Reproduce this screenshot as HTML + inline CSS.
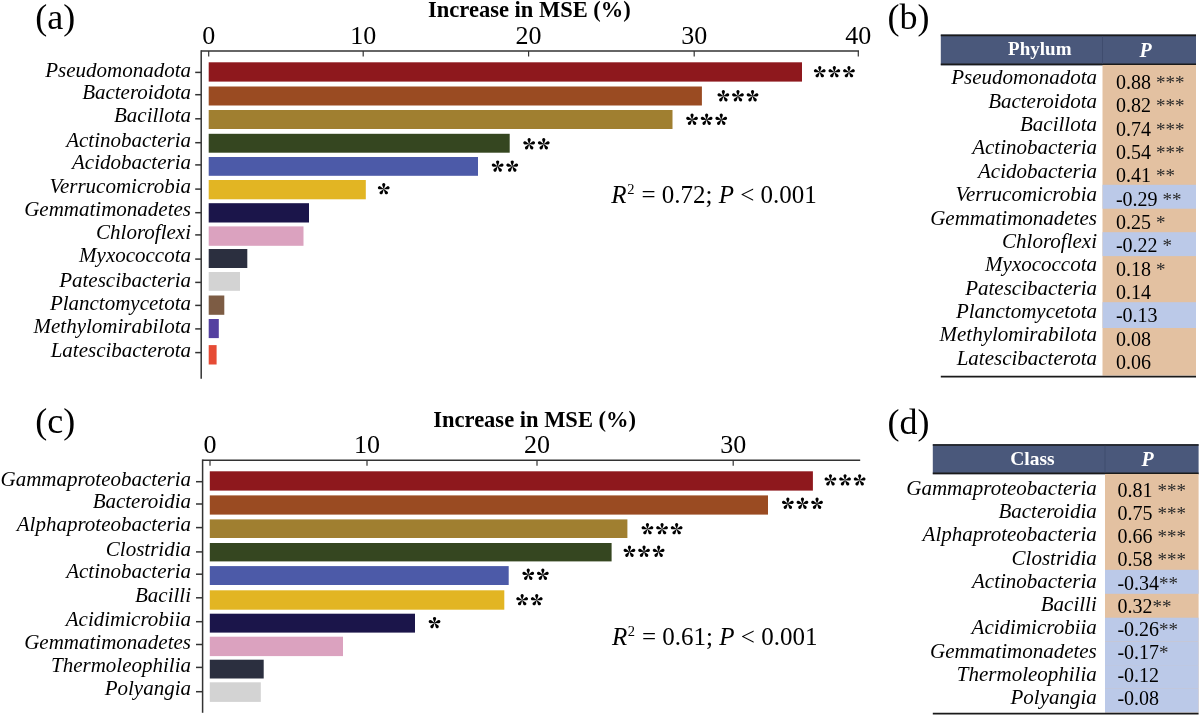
<!DOCTYPE html>
<html><head><meta charset="utf-8"><style>
html,body{margin:0;padding:0;background:#fff;}
body{width:1200px;height:716px;overflow:hidden;}
svg{display:block;font-family:"Liberation Serif", serif;will-change:transform;}
</style></head><body>
<svg width="1200" height="716" viewBox="0 0 1200 716">
<rect width="1200" height="716" fill="#fff"/>
<text x="35.2" y="29" text-anchor="start" fill="#000" style="font-size:36px;">(a)</text>
<text x="428.1" y="17.2" text-anchor="start" fill="#000" style="font-size:22.5px;font-weight:bold;">Increase in MSE (%)</text>
<line x1="201.2" y1="51" x2="859" y2="51" stroke="#333" stroke-width="1.5"/>
<line x1="201.2" y1="50.25" x2="201.2" y2="378.7" stroke="#333" stroke-width="1.5"/>
<line x1="208.7" y1="51" x2="208.7" y2="56.5" stroke="#333" stroke-width="1.2"/>
<text x="208.7" y="44.2" text-anchor="middle" fill="#000" style="font-size:26px;">0</text>
<line x1="363.2" y1="51" x2="363.2" y2="56.5" stroke="#333" stroke-width="1.2"/>
<text x="363.2" y="44.2" text-anchor="middle" fill="#000" style="font-size:26px;">10</text>
<line x1="528.6" y1="51" x2="528.6" y2="56.5" stroke="#333" stroke-width="1.2"/>
<text x="528.6" y="44.2" text-anchor="middle" fill="#000" style="font-size:26px;">20</text>
<line x1="694.2" y1="51" x2="694.2" y2="56.5" stroke="#333" stroke-width="1.2"/>
<text x="694.2" y="44.2" text-anchor="middle" fill="#000" style="font-size:26px;">30</text>
<line x1="858.3" y1="51" x2="858.3" y2="56.5" stroke="#333" stroke-width="1.2"/>
<text x="858.3" y="44.2" text-anchor="middle" fill="#000" style="font-size:26px;">40</text>
<rect x="208.70" y="62.30" width="593.30" height="19.30" fill="#8E181D"/>
<line x1="195.2" y1="72.4" x2="201.2" y2="72.4" stroke="#333" stroke-width="1.5"/>
<text x="191" y="77.39999999999999" text-anchor="end" fill="#000" style="font-size:21px;font-style:italic;">Pseudomonadota</text>
<rect x="208.70" y="86.50" width="493.20" height="19.00" fill="#9A4B22"/>
<line x1="195.2" y1="94.7" x2="201.2" y2="94.7" stroke="#333" stroke-width="1.5"/>
<text x="191" y="98.89999999999999" text-anchor="end" fill="#000" style="font-size:21px;font-style:italic;">Bacteroidota</text>
<rect x="208.70" y="110.00" width="463.80" height="19.00" fill="#A07F30"/>
<line x1="195.2" y1="118.8" x2="201.2" y2="118.8" stroke="#333" stroke-width="1.5"/>
<text x="191" y="122.1" text-anchor="end" fill="#000" style="font-size:21px;font-style:italic;">Bacillota</text>
<rect x="208.70" y="133.80" width="301.00" height="18.90" fill="#354620"/>
<line x1="195.2" y1="142.7" x2="201.2" y2="142.7" stroke="#333" stroke-width="1.5"/>
<text x="191" y="146.9" text-anchor="end" fill="#000" style="font-size:21px;font-style:italic;">Actinobacteria</text>
<rect x="208.70" y="157.00" width="269.30" height="18.80" fill="#4C5AA8"/>
<line x1="195.2" y1="164.9" x2="201.2" y2="164.9" stroke="#333" stroke-width="1.5"/>
<text x="191" y="169.3" text-anchor="end" fill="#000" style="font-size:21px;font-style:italic;">Acidobacteria</text>
<rect x="208.70" y="180.00" width="157.10" height="19.30" fill="#E2B523"/>
<line x1="195.2" y1="189.1" x2="201.2" y2="189.1" stroke="#333" stroke-width="1.5"/>
<text x="191" y="193.10000000000002" text-anchor="end" fill="#000" style="font-size:21px;font-style:italic;">Verrucomicrobia</text>
<rect x="208.70" y="203.20" width="100.30" height="19.30" fill="#1B154A"/>
<line x1="195.2" y1="212.7" x2="201.2" y2="212.7" stroke="#333" stroke-width="1.5"/>
<text x="191" y="216.4" text-anchor="end" fill="#000" style="font-size:21px;font-style:italic;">Gemmatimonadetes</text>
<rect x="208.70" y="226.40" width="94.80" height="19.40" fill="#DBA2BF"/>
<line x1="195.2" y1="234.9" x2="201.2" y2="234.9" stroke="#333" stroke-width="1.5"/>
<text x="191" y="238.9" text-anchor="end" fill="#000" style="font-size:21px;font-style:italic;">Chloroflexi</text>
<rect x="208.70" y="249.00" width="38.60" height="19.00" fill="#2B2F3F"/>
<line x1="195.2" y1="259.1" x2="201.2" y2="259.1" stroke="#333" stroke-width="1.5"/>
<text x="191" y="262.3" text-anchor="end" fill="#000" style="font-size:21px;font-style:italic;">Myxococcota</text>
<rect x="208.70" y="272.00" width="31.30" height="18.80" fill="#D3D3D3"/>
<line x1="195.2" y1="282.4" x2="201.2" y2="282.4" stroke="#333" stroke-width="1.5"/>
<text x="191" y="286.6" text-anchor="end" fill="#000" style="font-size:21px;font-style:italic;">Patescibacteria</text>
<rect x="208.70" y="295.50" width="15.60" height="19.30" fill="#7D5C44"/>
<line x1="195.2" y1="305.4" x2="201.2" y2="305.4" stroke="#333" stroke-width="1.5"/>
<text x="191" y="309.6" text-anchor="end" fill="#000" style="font-size:21px;font-style:italic;">Planctomycetota</text>
<rect x="208.70" y="319.00" width="10.10" height="19.10" fill="#5440A0"/>
<line x1="195.2" y1="328.9" x2="201.2" y2="328.9" stroke="#333" stroke-width="1.5"/>
<text x="191" y="333.3" text-anchor="end" fill="#000" style="font-size:21px;font-style:italic;">Methylomirabilota</text>
<rect x="208.70" y="345.10" width="7.90" height="19.40" fill="#E64B35"/>
<line x1="195.2" y1="352.6" x2="201.2" y2="352.6" stroke="#333" stroke-width="1.5"/>
<text x="191" y="356.6" text-anchor="end" fill="#000" style="font-size:21px;font-style:italic;">Latescibacterota</text>
<g transform="translate(819.75,72.10)"><path d="M0,0.2 L-1.495,-3.931 A1.6,1.6 0 1 1 1.495,-3.931 L0,0.2 Z" transform="rotate(0)"/><path d="M0,0.2 L-1.495,-3.931 A1.6,1.6 0 1 1 1.495,-3.931 L0,0.2 Z" transform="rotate(72)"/><path d="M0,0.2 L-1.495,-3.931 A1.6,1.6 0 1 1 1.495,-3.931 L0,0.2 Z" transform="rotate(144)"/><path d="M0,0.2 L-1.495,-3.931 A1.6,1.6 0 1 1 1.495,-3.931 L0,0.2 Z" transform="rotate(216)"/><path d="M0,0.2 L-1.495,-3.931 A1.6,1.6 0 1 1 1.495,-3.931 L0,0.2 Z" transform="rotate(288)"/></g>
<g transform="translate(834.35,72.10)"><path d="M0,0.2 L-1.495,-3.931 A1.6,1.6 0 1 1 1.495,-3.931 L0,0.2 Z" transform="rotate(0)"/><path d="M0,0.2 L-1.495,-3.931 A1.6,1.6 0 1 1 1.495,-3.931 L0,0.2 Z" transform="rotate(72)"/><path d="M0,0.2 L-1.495,-3.931 A1.6,1.6 0 1 1 1.495,-3.931 L0,0.2 Z" transform="rotate(144)"/><path d="M0,0.2 L-1.495,-3.931 A1.6,1.6 0 1 1 1.495,-3.931 L0,0.2 Z" transform="rotate(216)"/><path d="M0,0.2 L-1.495,-3.931 A1.6,1.6 0 1 1 1.495,-3.931 L0,0.2 Z" transform="rotate(288)"/></g>
<g transform="translate(848.95,72.10)"><path d="M0,0.2 L-1.495,-3.931 A1.6,1.6 0 1 1 1.495,-3.931 L0,0.2 Z" transform="rotate(0)"/><path d="M0,0.2 L-1.495,-3.931 A1.6,1.6 0 1 1 1.495,-3.931 L0,0.2 Z" transform="rotate(72)"/><path d="M0,0.2 L-1.495,-3.931 A1.6,1.6 0 1 1 1.495,-3.931 L0,0.2 Z" transform="rotate(144)"/><path d="M0,0.2 L-1.495,-3.931 A1.6,1.6 0 1 1 1.495,-3.931 L0,0.2 Z" transform="rotate(216)"/><path d="M0,0.2 L-1.495,-3.931 A1.6,1.6 0 1 1 1.495,-3.931 L0,0.2 Z" transform="rotate(288)"/></g>
<g transform="translate(723.35,96.20)"><path d="M0,0.2 L-1.495,-3.931 A1.6,1.6 0 1 1 1.495,-3.931 L0,0.2 Z" transform="rotate(0)"/><path d="M0,0.2 L-1.495,-3.931 A1.6,1.6 0 1 1 1.495,-3.931 L0,0.2 Z" transform="rotate(72)"/><path d="M0,0.2 L-1.495,-3.931 A1.6,1.6 0 1 1 1.495,-3.931 L0,0.2 Z" transform="rotate(144)"/><path d="M0,0.2 L-1.495,-3.931 A1.6,1.6 0 1 1 1.495,-3.931 L0,0.2 Z" transform="rotate(216)"/><path d="M0,0.2 L-1.495,-3.931 A1.6,1.6 0 1 1 1.495,-3.931 L0,0.2 Z" transform="rotate(288)"/></g>
<g transform="translate(737.95,96.20)"><path d="M0,0.2 L-1.495,-3.931 A1.6,1.6 0 1 1 1.495,-3.931 L0,0.2 Z" transform="rotate(0)"/><path d="M0,0.2 L-1.495,-3.931 A1.6,1.6 0 1 1 1.495,-3.931 L0,0.2 Z" transform="rotate(72)"/><path d="M0,0.2 L-1.495,-3.931 A1.6,1.6 0 1 1 1.495,-3.931 L0,0.2 Z" transform="rotate(144)"/><path d="M0,0.2 L-1.495,-3.931 A1.6,1.6 0 1 1 1.495,-3.931 L0,0.2 Z" transform="rotate(216)"/><path d="M0,0.2 L-1.495,-3.931 A1.6,1.6 0 1 1 1.495,-3.931 L0,0.2 Z" transform="rotate(288)"/></g>
<g transform="translate(752.55,96.20)"><path d="M0,0.2 L-1.495,-3.931 A1.6,1.6 0 1 1 1.495,-3.931 L0,0.2 Z" transform="rotate(0)"/><path d="M0,0.2 L-1.495,-3.931 A1.6,1.6 0 1 1 1.495,-3.931 L0,0.2 Z" transform="rotate(72)"/><path d="M0,0.2 L-1.495,-3.931 A1.6,1.6 0 1 1 1.495,-3.931 L0,0.2 Z" transform="rotate(144)"/><path d="M0,0.2 L-1.495,-3.931 A1.6,1.6 0 1 1 1.495,-3.931 L0,0.2 Z" transform="rotate(216)"/><path d="M0,0.2 L-1.495,-3.931 A1.6,1.6 0 1 1 1.495,-3.931 L0,0.2 Z" transform="rotate(288)"/></g>
<g transform="translate(692.05,119.70)"><path d="M0,0.2 L-1.495,-3.931 A1.6,1.6 0 1 1 1.495,-3.931 L0,0.2 Z" transform="rotate(0)"/><path d="M0,0.2 L-1.495,-3.931 A1.6,1.6 0 1 1 1.495,-3.931 L0,0.2 Z" transform="rotate(72)"/><path d="M0,0.2 L-1.495,-3.931 A1.6,1.6 0 1 1 1.495,-3.931 L0,0.2 Z" transform="rotate(144)"/><path d="M0,0.2 L-1.495,-3.931 A1.6,1.6 0 1 1 1.495,-3.931 L0,0.2 Z" transform="rotate(216)"/><path d="M0,0.2 L-1.495,-3.931 A1.6,1.6 0 1 1 1.495,-3.931 L0,0.2 Z" transform="rotate(288)"/></g>
<g transform="translate(706.65,119.70)"><path d="M0,0.2 L-1.495,-3.931 A1.6,1.6 0 1 1 1.495,-3.931 L0,0.2 Z" transform="rotate(0)"/><path d="M0,0.2 L-1.495,-3.931 A1.6,1.6 0 1 1 1.495,-3.931 L0,0.2 Z" transform="rotate(72)"/><path d="M0,0.2 L-1.495,-3.931 A1.6,1.6 0 1 1 1.495,-3.931 L0,0.2 Z" transform="rotate(144)"/><path d="M0,0.2 L-1.495,-3.931 A1.6,1.6 0 1 1 1.495,-3.931 L0,0.2 Z" transform="rotate(216)"/><path d="M0,0.2 L-1.495,-3.931 A1.6,1.6 0 1 1 1.495,-3.931 L0,0.2 Z" transform="rotate(288)"/></g>
<g transform="translate(721.25,119.70)"><path d="M0,0.2 L-1.495,-3.931 A1.6,1.6 0 1 1 1.495,-3.931 L0,0.2 Z" transform="rotate(0)"/><path d="M0,0.2 L-1.495,-3.931 A1.6,1.6 0 1 1 1.495,-3.931 L0,0.2 Z" transform="rotate(72)"/><path d="M0,0.2 L-1.495,-3.931 A1.6,1.6 0 1 1 1.495,-3.931 L0,0.2 Z" transform="rotate(144)"/><path d="M0,0.2 L-1.495,-3.931 A1.6,1.6 0 1 1 1.495,-3.931 L0,0.2 Z" transform="rotate(216)"/><path d="M0,0.2 L-1.495,-3.931 A1.6,1.6 0 1 1 1.495,-3.931 L0,0.2 Z" transform="rotate(288)"/></g>
<g transform="translate(529.15,144.20)"><path d="M0,0.2 L-1.495,-3.931 A1.6,1.6 0 1 1 1.495,-3.931 L0,0.2 Z" transform="rotate(0)"/><path d="M0,0.2 L-1.495,-3.931 A1.6,1.6 0 1 1 1.495,-3.931 L0,0.2 Z" transform="rotate(72)"/><path d="M0,0.2 L-1.495,-3.931 A1.6,1.6 0 1 1 1.495,-3.931 L0,0.2 Z" transform="rotate(144)"/><path d="M0,0.2 L-1.495,-3.931 A1.6,1.6 0 1 1 1.495,-3.931 L0,0.2 Z" transform="rotate(216)"/><path d="M0,0.2 L-1.495,-3.931 A1.6,1.6 0 1 1 1.495,-3.931 L0,0.2 Z" transform="rotate(288)"/></g>
<g transform="translate(543.75,144.20)"><path d="M0,0.2 L-1.495,-3.931 A1.6,1.6 0 1 1 1.495,-3.931 L0,0.2 Z" transform="rotate(0)"/><path d="M0,0.2 L-1.495,-3.931 A1.6,1.6 0 1 1 1.495,-3.931 L0,0.2 Z" transform="rotate(72)"/><path d="M0,0.2 L-1.495,-3.931 A1.6,1.6 0 1 1 1.495,-3.931 L0,0.2 Z" transform="rotate(144)"/><path d="M0,0.2 L-1.495,-3.931 A1.6,1.6 0 1 1 1.495,-3.931 L0,0.2 Z" transform="rotate(216)"/><path d="M0,0.2 L-1.495,-3.931 A1.6,1.6 0 1 1 1.495,-3.931 L0,0.2 Z" transform="rotate(288)"/></g>
<g transform="translate(497.65,166.50)"><path d="M0,0.2 L-1.495,-3.931 A1.6,1.6 0 1 1 1.495,-3.931 L0,0.2 Z" transform="rotate(0)"/><path d="M0,0.2 L-1.495,-3.931 A1.6,1.6 0 1 1 1.495,-3.931 L0,0.2 Z" transform="rotate(72)"/><path d="M0,0.2 L-1.495,-3.931 A1.6,1.6 0 1 1 1.495,-3.931 L0,0.2 Z" transform="rotate(144)"/><path d="M0,0.2 L-1.495,-3.931 A1.6,1.6 0 1 1 1.495,-3.931 L0,0.2 Z" transform="rotate(216)"/><path d="M0,0.2 L-1.495,-3.931 A1.6,1.6 0 1 1 1.495,-3.931 L0,0.2 Z" transform="rotate(288)"/></g>
<g transform="translate(512.25,166.50)"><path d="M0,0.2 L-1.495,-3.931 A1.6,1.6 0 1 1 1.495,-3.931 L0,0.2 Z" transform="rotate(0)"/><path d="M0,0.2 L-1.495,-3.931 A1.6,1.6 0 1 1 1.495,-3.931 L0,0.2 Z" transform="rotate(72)"/><path d="M0,0.2 L-1.495,-3.931 A1.6,1.6 0 1 1 1.495,-3.931 L0,0.2 Z" transform="rotate(144)"/><path d="M0,0.2 L-1.495,-3.931 A1.6,1.6 0 1 1 1.495,-3.931 L0,0.2 Z" transform="rotate(216)"/><path d="M0,0.2 L-1.495,-3.931 A1.6,1.6 0 1 1 1.495,-3.931 L0,0.2 Z" transform="rotate(288)"/></g>
<g transform="translate(383.75,189.10)"><path d="M0,0.2 L-1.495,-3.931 A1.6,1.6 0 1 1 1.495,-3.931 L0,0.2 Z" transform="rotate(0)"/><path d="M0,0.2 L-1.495,-3.931 A1.6,1.6 0 1 1 1.495,-3.931 L0,0.2 Z" transform="rotate(72)"/><path d="M0,0.2 L-1.495,-3.931 A1.6,1.6 0 1 1 1.495,-3.931 L0,0.2 Z" transform="rotate(144)"/><path d="M0,0.2 L-1.495,-3.931 A1.6,1.6 0 1 1 1.495,-3.931 L0,0.2 Z" transform="rotate(216)"/><path d="M0,0.2 L-1.495,-3.931 A1.6,1.6 0 1 1 1.495,-3.931 L0,0.2 Z" transform="rotate(288)"/></g>
<text x="611.3" y="202.6" text-anchor="start" fill="#000" style="font-size:25px;"><tspan font-style="italic">R</tspan><tspan font-size="14.5" dx="0.6" dy="-8.5">2</tspan><tspan dx="0.7" dy="8.5"> = 0.72; </tspan><tspan font-style="italic">P</tspan> &lt; 0.001</text>
<text x="35.2" y="433.3" text-anchor="start" fill="#000" style="font-size:36px;">(c)</text>
<text x="433.3" y="426.8" text-anchor="start" fill="#000" style="font-size:22.5px;font-weight:bold;">Increase in MSE (%)</text>
<line x1="202.6" y1="460.2" x2="860.2" y2="460.2" stroke="#333" stroke-width="1.5"/>
<line x1="202.6" y1="459.45" x2="202.6" y2="712.8" stroke="#333" stroke-width="1.5"/>
<line x1="210" y1="460.2" x2="210" y2="465.7" stroke="#333" stroke-width="1.2"/>
<text x="210" y="453.3" text-anchor="middle" fill="#000" style="font-size:26px;">0</text>
<line x1="367" y1="460.2" x2="367" y2="465.7" stroke="#333" stroke-width="1.2"/>
<text x="367" y="453.3" text-anchor="middle" fill="#000" style="font-size:26px;">10</text>
<line x1="537" y1="460.2" x2="537" y2="465.7" stroke="#333" stroke-width="1.2"/>
<text x="537" y="453.3" text-anchor="middle" fill="#000" style="font-size:26px;">20</text>
<line x1="733.2" y1="460.2" x2="733.2" y2="465.7" stroke="#333" stroke-width="1.2"/>
<text x="733.2" y="453.3" text-anchor="middle" fill="#000" style="font-size:26px;">30</text>
<rect x="209.80" y="471.30" width="603.10" height="19.30" fill="#8E181D"/>
<line x1="196" y1="481.7" x2="202.6" y2="481.7" stroke="#333" stroke-width="1.5"/>
<text x="191" y="485.90000000000003" text-anchor="end" fill="#000" style="font-size:21px;font-style:italic;">Gammaproteobacteria</text>
<rect x="209.80" y="495.40" width="558.20" height="19.20" fill="#9A4B22"/>
<line x1="196" y1="504" x2="202.6" y2="504" stroke="#333" stroke-width="1.5"/>
<text x="191" y="508.1" text-anchor="end" fill="#000" style="font-size:21px;font-style:italic;">Bacteroidia</text>
<rect x="209.80" y="519.40" width="417.60" height="18.60" fill="#A07F30"/>
<line x1="196" y1="527.6" x2="202.6" y2="527.6" stroke="#333" stroke-width="1.5"/>
<text x="191" y="531.3" text-anchor="end" fill="#000" style="font-size:21px;font-style:italic;">Alphaproteobacteria</text>
<rect x="209.80" y="543.00" width="401.80" height="18.40" fill="#354620"/>
<line x1="196" y1="551.9" x2="202.6" y2="551.9" stroke="#333" stroke-width="1.5"/>
<text x="191" y="555.9" text-anchor="end" fill="#000" style="font-size:21px;font-style:italic;">Clostridia</text>
<rect x="209.80" y="566.10" width="298.90" height="18.90" fill="#4C5AA8"/>
<line x1="196" y1="574.2" x2="202.6" y2="574.2" stroke="#333" stroke-width="1.5"/>
<text x="191" y="578.0999999999999" text-anchor="end" fill="#000" style="font-size:21px;font-style:italic;">Actinobacteria</text>
<rect x="209.80" y="590.30" width="294.50" height="19.40" fill="#E2B523"/>
<line x1="196" y1="597.8" x2="202.6" y2="597.8" stroke="#333" stroke-width="1.5"/>
<text x="191" y="602.3" text-anchor="end" fill="#000" style="font-size:21px;font-style:italic;">Bacilli</text>
<rect x="209.80" y="613.70" width="205.20" height="18.90" fill="#1B154A"/>
<line x1="196" y1="621.7" x2="202.6" y2="621.7" stroke="#333" stroke-width="1.5"/>
<text x="191" y="625.8" text-anchor="end" fill="#000" style="font-size:21px;font-style:italic;">Acidimicrobiia</text>
<rect x="209.80" y="636.70" width="133.20" height="19.40" fill="#DBA2BF"/>
<line x1="196" y1="644.5" x2="202.6" y2="644.5" stroke="#333" stroke-width="1.5"/>
<text x="191" y="648.6999999999999" text-anchor="end" fill="#000" style="font-size:21px;font-style:italic;">Gemmatimonadetes</text>
<rect x="209.80" y="659.70" width="53.90" height="18.80" fill="#2B2F3F"/>
<line x1="196" y1="667.4" x2="202.6" y2="667.4" stroke="#333" stroke-width="1.5"/>
<text x="191" y="671.5999999999999" text-anchor="end" fill="#000" style="font-size:21px;font-style:italic;">Thermoleophilia</text>
<rect x="209.80" y="682.30" width="51.00" height="19.60" fill="#D3D3D3"/>
<line x1="196" y1="691.7" x2="202.6" y2="691.7" stroke="#333" stroke-width="1.5"/>
<text x="191" y="695.3" text-anchor="end" fill="#000" style="font-size:21px;font-style:italic;">Polyangia</text>
<g transform="translate(830.45,480.30)"><path d="M0,0.2 L-1.495,-3.931 A1.6,1.6 0 1 1 1.495,-3.931 L0,0.2 Z" transform="rotate(0)"/><path d="M0,0.2 L-1.495,-3.931 A1.6,1.6 0 1 1 1.495,-3.931 L0,0.2 Z" transform="rotate(72)"/><path d="M0,0.2 L-1.495,-3.931 A1.6,1.6 0 1 1 1.495,-3.931 L0,0.2 Z" transform="rotate(144)"/><path d="M0,0.2 L-1.495,-3.931 A1.6,1.6 0 1 1 1.495,-3.931 L0,0.2 Z" transform="rotate(216)"/><path d="M0,0.2 L-1.495,-3.931 A1.6,1.6 0 1 1 1.495,-3.931 L0,0.2 Z" transform="rotate(288)"/></g>
<g transform="translate(845.05,480.30)"><path d="M0,0.2 L-1.495,-3.931 A1.6,1.6 0 1 1 1.495,-3.931 L0,0.2 Z" transform="rotate(0)"/><path d="M0,0.2 L-1.495,-3.931 A1.6,1.6 0 1 1 1.495,-3.931 L0,0.2 Z" transform="rotate(72)"/><path d="M0,0.2 L-1.495,-3.931 A1.6,1.6 0 1 1 1.495,-3.931 L0,0.2 Z" transform="rotate(144)"/><path d="M0,0.2 L-1.495,-3.931 A1.6,1.6 0 1 1 1.495,-3.931 L0,0.2 Z" transform="rotate(216)"/><path d="M0,0.2 L-1.495,-3.931 A1.6,1.6 0 1 1 1.495,-3.931 L0,0.2 Z" transform="rotate(288)"/></g>
<g transform="translate(859.65,480.30)"><path d="M0,0.2 L-1.495,-3.931 A1.6,1.6 0 1 1 1.495,-3.931 L0,0.2 Z" transform="rotate(0)"/><path d="M0,0.2 L-1.495,-3.931 A1.6,1.6 0 1 1 1.495,-3.931 L0,0.2 Z" transform="rotate(72)"/><path d="M0,0.2 L-1.495,-3.931 A1.6,1.6 0 1 1 1.495,-3.931 L0,0.2 Z" transform="rotate(144)"/><path d="M0,0.2 L-1.495,-3.931 A1.6,1.6 0 1 1 1.495,-3.931 L0,0.2 Z" transform="rotate(216)"/><path d="M0,0.2 L-1.495,-3.931 A1.6,1.6 0 1 1 1.495,-3.931 L0,0.2 Z" transform="rotate(288)"/></g>
<g transform="translate(787.85,503.70)"><path d="M0,0.2 L-1.495,-3.931 A1.6,1.6 0 1 1 1.495,-3.931 L0,0.2 Z" transform="rotate(0)"/><path d="M0,0.2 L-1.495,-3.931 A1.6,1.6 0 1 1 1.495,-3.931 L0,0.2 Z" transform="rotate(72)"/><path d="M0,0.2 L-1.495,-3.931 A1.6,1.6 0 1 1 1.495,-3.931 L0,0.2 Z" transform="rotate(144)"/><path d="M0,0.2 L-1.495,-3.931 A1.6,1.6 0 1 1 1.495,-3.931 L0,0.2 Z" transform="rotate(216)"/><path d="M0,0.2 L-1.495,-3.931 A1.6,1.6 0 1 1 1.495,-3.931 L0,0.2 Z" transform="rotate(288)"/></g>
<g transform="translate(802.45,503.70)"><path d="M0,0.2 L-1.495,-3.931 A1.6,1.6 0 1 1 1.495,-3.931 L0,0.2 Z" transform="rotate(0)"/><path d="M0,0.2 L-1.495,-3.931 A1.6,1.6 0 1 1 1.495,-3.931 L0,0.2 Z" transform="rotate(72)"/><path d="M0,0.2 L-1.495,-3.931 A1.6,1.6 0 1 1 1.495,-3.931 L0,0.2 Z" transform="rotate(144)"/><path d="M0,0.2 L-1.495,-3.931 A1.6,1.6 0 1 1 1.495,-3.931 L0,0.2 Z" transform="rotate(216)"/><path d="M0,0.2 L-1.495,-3.931 A1.6,1.6 0 1 1 1.495,-3.931 L0,0.2 Z" transform="rotate(288)"/></g>
<g transform="translate(817.05,503.70)"><path d="M0,0.2 L-1.495,-3.931 A1.6,1.6 0 1 1 1.495,-3.931 L0,0.2 Z" transform="rotate(0)"/><path d="M0,0.2 L-1.495,-3.931 A1.6,1.6 0 1 1 1.495,-3.931 L0,0.2 Z" transform="rotate(72)"/><path d="M0,0.2 L-1.495,-3.931 A1.6,1.6 0 1 1 1.495,-3.931 L0,0.2 Z" transform="rotate(144)"/><path d="M0,0.2 L-1.495,-3.931 A1.6,1.6 0 1 1 1.495,-3.931 L0,0.2 Z" transform="rotate(216)"/><path d="M0,0.2 L-1.495,-3.931 A1.6,1.6 0 1 1 1.495,-3.931 L0,0.2 Z" transform="rotate(288)"/></g>
<g transform="translate(647.45,529.10)"><path d="M0,0.2 L-1.495,-3.931 A1.6,1.6 0 1 1 1.495,-3.931 L0,0.2 Z" transform="rotate(0)"/><path d="M0,0.2 L-1.495,-3.931 A1.6,1.6 0 1 1 1.495,-3.931 L0,0.2 Z" transform="rotate(72)"/><path d="M0,0.2 L-1.495,-3.931 A1.6,1.6 0 1 1 1.495,-3.931 L0,0.2 Z" transform="rotate(144)"/><path d="M0,0.2 L-1.495,-3.931 A1.6,1.6 0 1 1 1.495,-3.931 L0,0.2 Z" transform="rotate(216)"/><path d="M0,0.2 L-1.495,-3.931 A1.6,1.6 0 1 1 1.495,-3.931 L0,0.2 Z" transform="rotate(288)"/></g>
<g transform="translate(662.05,529.10)"><path d="M0,0.2 L-1.495,-3.931 A1.6,1.6 0 1 1 1.495,-3.931 L0,0.2 Z" transform="rotate(0)"/><path d="M0,0.2 L-1.495,-3.931 A1.6,1.6 0 1 1 1.495,-3.931 L0,0.2 Z" transform="rotate(72)"/><path d="M0,0.2 L-1.495,-3.931 A1.6,1.6 0 1 1 1.495,-3.931 L0,0.2 Z" transform="rotate(144)"/><path d="M0,0.2 L-1.495,-3.931 A1.6,1.6 0 1 1 1.495,-3.931 L0,0.2 Z" transform="rotate(216)"/><path d="M0,0.2 L-1.495,-3.931 A1.6,1.6 0 1 1 1.495,-3.931 L0,0.2 Z" transform="rotate(288)"/></g>
<g transform="translate(676.65,529.10)"><path d="M0,0.2 L-1.495,-3.931 A1.6,1.6 0 1 1 1.495,-3.931 L0,0.2 Z" transform="rotate(0)"/><path d="M0,0.2 L-1.495,-3.931 A1.6,1.6 0 1 1 1.495,-3.931 L0,0.2 Z" transform="rotate(72)"/><path d="M0,0.2 L-1.495,-3.931 A1.6,1.6 0 1 1 1.495,-3.931 L0,0.2 Z" transform="rotate(144)"/><path d="M0,0.2 L-1.495,-3.931 A1.6,1.6 0 1 1 1.495,-3.931 L0,0.2 Z" transform="rotate(216)"/><path d="M0,0.2 L-1.495,-3.931 A1.6,1.6 0 1 1 1.495,-3.931 L0,0.2 Z" transform="rotate(288)"/></g>
<g transform="translate(629.45,551.70)"><path d="M0,0.2 L-1.495,-3.931 A1.6,1.6 0 1 1 1.495,-3.931 L0,0.2 Z" transform="rotate(0)"/><path d="M0,0.2 L-1.495,-3.931 A1.6,1.6 0 1 1 1.495,-3.931 L0,0.2 Z" transform="rotate(72)"/><path d="M0,0.2 L-1.495,-3.931 A1.6,1.6 0 1 1 1.495,-3.931 L0,0.2 Z" transform="rotate(144)"/><path d="M0,0.2 L-1.495,-3.931 A1.6,1.6 0 1 1 1.495,-3.931 L0,0.2 Z" transform="rotate(216)"/><path d="M0,0.2 L-1.495,-3.931 A1.6,1.6 0 1 1 1.495,-3.931 L0,0.2 Z" transform="rotate(288)"/></g>
<g transform="translate(644.05,551.70)"><path d="M0,0.2 L-1.495,-3.931 A1.6,1.6 0 1 1 1.495,-3.931 L0,0.2 Z" transform="rotate(0)"/><path d="M0,0.2 L-1.495,-3.931 A1.6,1.6 0 1 1 1.495,-3.931 L0,0.2 Z" transform="rotate(72)"/><path d="M0,0.2 L-1.495,-3.931 A1.6,1.6 0 1 1 1.495,-3.931 L0,0.2 Z" transform="rotate(144)"/><path d="M0,0.2 L-1.495,-3.931 A1.6,1.6 0 1 1 1.495,-3.931 L0,0.2 Z" transform="rotate(216)"/><path d="M0,0.2 L-1.495,-3.931 A1.6,1.6 0 1 1 1.495,-3.931 L0,0.2 Z" transform="rotate(288)"/></g>
<g transform="translate(658.65,551.70)"><path d="M0,0.2 L-1.495,-3.931 A1.6,1.6 0 1 1 1.495,-3.931 L0,0.2 Z" transform="rotate(0)"/><path d="M0,0.2 L-1.495,-3.931 A1.6,1.6 0 1 1 1.495,-3.931 L0,0.2 Z" transform="rotate(72)"/><path d="M0,0.2 L-1.495,-3.931 A1.6,1.6 0 1 1 1.495,-3.931 L0,0.2 Z" transform="rotate(144)"/><path d="M0,0.2 L-1.495,-3.931 A1.6,1.6 0 1 1 1.495,-3.931 L0,0.2 Z" transform="rotate(216)"/><path d="M0,0.2 L-1.495,-3.931 A1.6,1.6 0 1 1 1.495,-3.931 L0,0.2 Z" transform="rotate(288)"/></g>
<g transform="translate(528.25,574.70)"><path d="M0,0.2 L-1.495,-3.931 A1.6,1.6 0 1 1 1.495,-3.931 L0,0.2 Z" transform="rotate(0)"/><path d="M0,0.2 L-1.495,-3.931 A1.6,1.6 0 1 1 1.495,-3.931 L0,0.2 Z" transform="rotate(72)"/><path d="M0,0.2 L-1.495,-3.931 A1.6,1.6 0 1 1 1.495,-3.931 L0,0.2 Z" transform="rotate(144)"/><path d="M0,0.2 L-1.495,-3.931 A1.6,1.6 0 1 1 1.495,-3.931 L0,0.2 Z" transform="rotate(216)"/><path d="M0,0.2 L-1.495,-3.931 A1.6,1.6 0 1 1 1.495,-3.931 L0,0.2 Z" transform="rotate(288)"/></g>
<g transform="translate(542.85,574.70)"><path d="M0,0.2 L-1.495,-3.931 A1.6,1.6 0 1 1 1.495,-3.931 L0,0.2 Z" transform="rotate(0)"/><path d="M0,0.2 L-1.495,-3.931 A1.6,1.6 0 1 1 1.495,-3.931 L0,0.2 Z" transform="rotate(72)"/><path d="M0,0.2 L-1.495,-3.931 A1.6,1.6 0 1 1 1.495,-3.931 L0,0.2 Z" transform="rotate(144)"/><path d="M0,0.2 L-1.495,-3.931 A1.6,1.6 0 1 1 1.495,-3.931 L0,0.2 Z" transform="rotate(216)"/><path d="M0,0.2 L-1.495,-3.931 A1.6,1.6 0 1 1 1.495,-3.931 L0,0.2 Z" transform="rotate(288)"/></g>
<g transform="translate(522.15,600.10)"><path d="M0,0.2 L-1.495,-3.931 A1.6,1.6 0 1 1 1.495,-3.931 L0,0.2 Z" transform="rotate(0)"/><path d="M0,0.2 L-1.495,-3.931 A1.6,1.6 0 1 1 1.495,-3.931 L0,0.2 Z" transform="rotate(72)"/><path d="M0,0.2 L-1.495,-3.931 A1.6,1.6 0 1 1 1.495,-3.931 L0,0.2 Z" transform="rotate(144)"/><path d="M0,0.2 L-1.495,-3.931 A1.6,1.6 0 1 1 1.495,-3.931 L0,0.2 Z" transform="rotate(216)"/><path d="M0,0.2 L-1.495,-3.931 A1.6,1.6 0 1 1 1.495,-3.931 L0,0.2 Z" transform="rotate(288)"/></g>
<g transform="translate(536.75,600.10)"><path d="M0,0.2 L-1.495,-3.931 A1.6,1.6 0 1 1 1.495,-3.931 L0,0.2 Z" transform="rotate(0)"/><path d="M0,0.2 L-1.495,-3.931 A1.6,1.6 0 1 1 1.495,-3.931 L0,0.2 Z" transform="rotate(72)"/><path d="M0,0.2 L-1.495,-3.931 A1.6,1.6 0 1 1 1.495,-3.931 L0,0.2 Z" transform="rotate(144)"/><path d="M0,0.2 L-1.495,-3.931 A1.6,1.6 0 1 1 1.495,-3.931 L0,0.2 Z" transform="rotate(216)"/><path d="M0,0.2 L-1.495,-3.931 A1.6,1.6 0 1 1 1.495,-3.931 L0,0.2 Z" transform="rotate(288)"/></g>
<g transform="translate(434.55,623.00)"><path d="M0,0.2 L-1.495,-3.931 A1.6,1.6 0 1 1 1.495,-3.931 L0,0.2 Z" transform="rotate(0)"/><path d="M0,0.2 L-1.495,-3.931 A1.6,1.6 0 1 1 1.495,-3.931 L0,0.2 Z" transform="rotate(72)"/><path d="M0,0.2 L-1.495,-3.931 A1.6,1.6 0 1 1 1.495,-3.931 L0,0.2 Z" transform="rotate(144)"/><path d="M0,0.2 L-1.495,-3.931 A1.6,1.6 0 1 1 1.495,-3.931 L0,0.2 Z" transform="rotate(216)"/><path d="M0,0.2 L-1.495,-3.931 A1.6,1.6 0 1 1 1.495,-3.931 L0,0.2 Z" transform="rotate(288)"/></g>
<text x="611.9" y="644.5" text-anchor="start" fill="#000" style="font-size:25px;"><tspan font-style="italic">R</tspan><tspan font-size="14.5" dx="0.6" dy="-8.5">2</tspan><tspan dx="0.7" dy="8.5"> = 0.61; </tspan><tspan font-style="italic">P</tspan> &lt; 0.001</text>
<text x="887.5" y="29" text-anchor="start" fill="#000" style="font-size:36px;">(b)</text>
<rect x="940.80" y="34.60" width="255.20" height="30.70" fill="#4A587B"/>
<line x1="940.8" y1="35.4" x2="1196" y2="35.4" stroke="#1a1a1a" stroke-width="1.6"/>
<line x1="940.8" y1="64.39999999999999" x2="1196" y2="64.39999999999999" stroke="#1a1a1a" stroke-width="1.8"/>
<line x1="1102.5" y1="36.2" x2="1102.5" y2="63.5" stroke="#3f4c6e" stroke-width="1"/>
<text x="1039.8" y="55.099999999999994" text-anchor="middle" fill="#fff" style="font-size:19px;font-weight:bold;">Phylum</text>
<text x="1145.5" y="56.5" text-anchor="middle" fill="#fff" style="font-size:20px;font-style:italic;font-weight:bold;">P</text>
<rect x="1102.50" y="65.00" width="93.50" height="310.60" fill="#E3C1A1"/>
<rect x="1102.50" y="184.80" width="93.50" height="23.90" fill="#BBC9E8"/>
<rect x="1102.50" y="232.20" width="93.50" height="23.90" fill="#BBC9E8"/>
<rect x="1102.50" y="302.20" width="93.50" height="25.80" fill="#BBC9E8"/>
<text x="1097" y="84.3" text-anchor="end" fill="#000" style="font-size:21px;font-style:italic;">Pseudomonadota</text>
<text x="1115.9" y="88.9" text-anchor="start" fill="#000" style="font-size:20px;">0.88 <tspan font-size="19" fill="#2a2a2a">***</tspan></text>
<text x="1097" y="107.67999999999999" text-anchor="end" fill="#000" style="font-size:21px;font-style:italic;">Bacteroidota</text>
<text x="1115.9" y="112.23" text-anchor="start" fill="#000" style="font-size:20px;">0.82 <tspan font-size="19" fill="#2a2a2a">***</tspan></text>
<text x="1097" y="131.06" text-anchor="end" fill="#000" style="font-size:21px;font-style:italic;">Bacillota</text>
<text x="1115.9" y="135.56" text-anchor="start" fill="#000" style="font-size:20px;">0.74 <tspan font-size="19" fill="#2a2a2a">***</tspan></text>
<text x="1097" y="154.44" text-anchor="end" fill="#000" style="font-size:21px;font-style:italic;">Actinobacteria</text>
<text x="1115.9" y="158.89" text-anchor="start" fill="#000" style="font-size:20px;">0.54 <tspan font-size="19" fill="#2a2a2a">***</tspan></text>
<text x="1097" y="177.82" text-anchor="end" fill="#000" style="font-size:21px;font-style:italic;">Acidobacteria</text>
<text x="1115.9" y="182.22" text-anchor="start" fill="#000" style="font-size:20px;">0.41 <tspan font-size="19" fill="#2a2a2a">**</tspan></text>
<text x="1097" y="201.2" text-anchor="end" fill="#000" style="font-size:21px;font-style:italic;">Verrucomicrobia</text>
<text x="1115.9" y="205.55" text-anchor="start" fill="#000" style="font-size:20px;">-0.29 <tspan font-size="19" fill="#2a2a2a">**</tspan></text>
<text x="1097" y="224.57999999999998" text-anchor="end" fill="#000" style="font-size:21px;font-style:italic;">Gemmatimonadetes</text>
<text x="1115.9" y="228.88" text-anchor="start" fill="#000" style="font-size:20px;">0.25 <tspan font-size="19" fill="#2a2a2a">*</tspan></text>
<text x="1097" y="247.95999999999998" text-anchor="end" fill="#000" style="font-size:21px;font-style:italic;">Chloroflexi</text>
<text x="1115.9" y="252.21" text-anchor="start" fill="#000" style="font-size:20px;">-0.22 <tspan font-size="19" fill="#2a2a2a">*</tspan></text>
<text x="1097" y="271.34" text-anchor="end" fill="#000" style="font-size:21px;font-style:italic;">Myxococcota</text>
<text x="1115.9" y="275.53999999999996" text-anchor="start" fill="#000" style="font-size:20px;">0.18 <tspan font-size="19" fill="#2a2a2a">*</tspan></text>
<text x="1097" y="294.71999999999997" text-anchor="end" fill="#000" style="font-size:21px;font-style:italic;">Patescibacteria</text>
<text x="1115.9" y="298.87" text-anchor="start" fill="#000" style="font-size:20px;">0.14</text>
<text x="1097" y="318.09999999999997" text-anchor="end" fill="#000" style="font-size:21px;font-style:italic;">Planctomycetota</text>
<text x="1115.9" y="322.2" text-anchor="start" fill="#000" style="font-size:20px;">-0.13</text>
<text x="1097" y="341.48" text-anchor="end" fill="#000" style="font-size:21px;font-style:italic;">Methylomirabilota</text>
<text x="1115.9" y="345.53" text-anchor="start" fill="#000" style="font-size:20px;">0.08</text>
<text x="1097" y="364.86" text-anchor="end" fill="#000" style="font-size:21px;font-style:italic;">Latescibacterota</text>
<text x="1115.9" y="368.86" text-anchor="start" fill="#000" style="font-size:20px;">0.06</text>
<line x1="940.8" y1="376.6" x2="1196" y2="376.6" stroke="#1a1a1a" stroke-width="1.6"/>
<text x="887.5" y="433.5" text-anchor="start" fill="#000" style="font-size:36px;">(d)</text>
<rect x="932.80" y="444.20" width="265.80" height="30.00" fill="#4A587B"/>
<line x1="932.8" y1="445.0" x2="1198.6" y2="445.0" stroke="#1a1a1a" stroke-width="1.6"/>
<line x1="932.8" y1="473.3" x2="1198.6" y2="473.3" stroke="#1a1a1a" stroke-width="1.8"/>
<line x1="1105" y1="445.8" x2="1105" y2="472.4" stroke="#3f4c6e" stroke-width="1"/>
<text x="1032.4" y="465.1" text-anchor="middle" fill="#fff" style="font-size:19.5px;font-weight:bold;">Class</text>
<text x="1147.5" y="465.95" text-anchor="middle" fill="#fff" style="font-size:20px;font-style:italic;font-weight:bold;">P</text>
<rect x="1105.00" y="474.00" width="93.60" height="238.50" fill="#E3C1A1"/>
<rect x="1105.00" y="569.80" width="93.60" height="24.00" fill="#BBC9E8"/>
<rect x="1105.00" y="617.70" width="93.60" height="23.70" fill="#BBC9E8"/>
<rect x="1105.00" y="641.40" width="93.60" height="23.70" fill="#BBC9E8"/>
<rect x="1105.00" y="665.10" width="93.60" height="23.70" fill="#BBC9E8"/>
<rect x="1105.00" y="688.80" width="93.60" height="23.70" fill="#BBC9E8"/>
<text x="1096.8" y="494.8" text-anchor="end" fill="#000" style="font-size:21px;font-style:italic;">Gammaproteobacteria</text>
<text x="1117.4" y="496.8" text-anchor="start" fill="#000" style="font-size:20px;">0.81 <tspan font-size="19" fill="#2a2a2a">***</tspan></text>
<text x="1096.8" y="518.0600000000001" text-anchor="end" fill="#000" style="font-size:21px;font-style:italic;">Bacteroidia</text>
<text x="1117.4" y="519.98" text-anchor="start" fill="#000" style="font-size:20px;">0.75 <tspan font-size="19" fill="#2a2a2a">***</tspan></text>
<text x="1096.8" y="541.32" text-anchor="end" fill="#000" style="font-size:21px;font-style:italic;">Alphaproteobacteria</text>
<text x="1117.4" y="543.16" text-anchor="start" fill="#000" style="font-size:20px;">0.66 <tspan font-size="19" fill="#2a2a2a">***</tspan></text>
<text x="1096.8" y="564.58" text-anchor="end" fill="#000" style="font-size:21px;font-style:italic;">Clostridia</text>
<text x="1117.4" y="566.34" text-anchor="start" fill="#000" style="font-size:20px;">0.58 <tspan font-size="19" fill="#2a2a2a">***</tspan></text>
<text x="1096.8" y="587.84" text-anchor="end" fill="#000" style="font-size:21px;font-style:italic;">Actinobacteria</text>
<text x="1117.4" y="589.52" text-anchor="start" fill="#000" style="font-size:20px;">-0.34<tspan font-size="19" fill="#2a2a2a">**</tspan></text>
<text x="1096.8" y="611.1" text-anchor="end" fill="#000" style="font-size:21px;font-style:italic;">Bacilli</text>
<text x="1117.4" y="612.7" text-anchor="start" fill="#000" style="font-size:20px;">0.32<tspan font-size="19" fill="#2a2a2a">**</tspan></text>
<text x="1096.8" y="634.36" text-anchor="end" fill="#000" style="font-size:21px;font-style:italic;">Acidimicrobiia</text>
<text x="1117.4" y="635.88" text-anchor="start" fill="#000" style="font-size:20px;">-0.26<tspan font-size="19" fill="#2a2a2a">**</tspan></text>
<text x="1096.8" y="657.62" text-anchor="end" fill="#000" style="font-size:21px;font-style:italic;">Gemmatimonadetes</text>
<text x="1117.4" y="659.06" text-anchor="start" fill="#000" style="font-size:20px;">-0.17<tspan font-size="19" fill="#2a2a2a">*</tspan></text>
<text x="1096.8" y="680.88" text-anchor="end" fill="#000" style="font-size:21px;font-style:italic;">Thermoleophilia</text>
<text x="1117.4" y="682.24" text-anchor="start" fill="#000" style="font-size:20px;">-0.12</text>
<text x="1096.8" y="704.14" text-anchor="end" fill="#000" style="font-size:21px;font-style:italic;">Polyangia</text>
<text x="1117.4" y="705.4200000000001" text-anchor="start" fill="#000" style="font-size:20px;">-0.08</text>
<line x1="932.8" y1="713.6" x2="1198.6" y2="713.6" stroke="#1a1a1a" stroke-width="1.6"/>
</svg>
</body></html>
